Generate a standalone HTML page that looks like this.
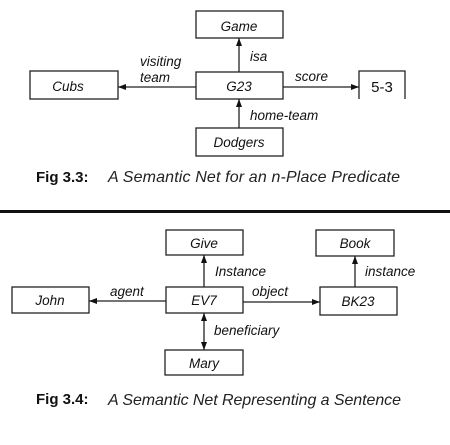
<!DOCTYPE html>
<html><head><style>
html,body{margin:0;padding:0;background:#fff;}
svg text{font-family:"Liberation Sans",Arial,sans-serif;}
</style></head><body>
<svg width="450" height="440" viewBox="0 0 450 440" xmlns="http://www.w3.org/2000/svg">
<defs>
<marker id="a" markerWidth="8" markerHeight="6" refX="8" refY="3" orient="auto" markerUnits="userSpaceOnUse"><path d="M0,0 L8,3 L0,6 z" fill="#111"/></marker>
<marker id="b" markerWidth="8" markerHeight="6" refX="0" refY="3" orient="auto" markerUnits="userSpaceOnUse"><path d="M8,0 L0,3 L8,6 z" fill="#111"/></marker>
</defs>
<g fill="#fff" stroke="#222" stroke-width="1.3">
<rect x="196" y="11" width="87" height="27"/>
<rect x="196" y="72" width="87" height="27"/>
<rect x="30" y="71" width="88" height="28"/>
<rect x="196" y="128" width="87" height="28"/>
<path d="M359,99 L359,71 L405,71 L405,99" fill="none"/>
<rect x="166" y="230" width="77" height="25"/>
<rect x="316" y="230" width="78" height="26"/>
<rect x="12" y="287" width="77" height="26"/>
<rect x="166" y="287" width="77" height="26"/>
<rect x="320" y="287" width="77" height="28"/>
<rect x="165" y="350" width="78" height="25"/>
</g>
<g stroke="#222" stroke-width="1.3" fill="none">
<line x1="239" y1="72" x2="239" y2="38" marker-end="url(#a)"/>
<line x1="196" y1="87" x2="118" y2="87" marker-end="url(#a)"/>
<line x1="283" y1="87" x2="359" y2="87" marker-end="url(#a)"/>
<line x1="239" y1="128" x2="239" y2="99" marker-end="url(#a)"/>
<line x1="204" y1="287" x2="204" y2="255" marker-end="url(#a)"/>
<line x1="355" y1="287" x2="355" y2="256" marker-end="url(#a)"/>
<line x1="166" y1="301" x2="89" y2="301" marker-end="url(#a)"/>
<line x1="243" y1="302" x2="320" y2="302" marker-end="url(#a)"/>
<line x1="204" y1="313" x2="204" y2="350" marker-start="url(#b)" marker-end="url(#a)"/>
</g>
<g font-size="13.5" font-style="italic" fill="#111">
<text x="239" y="31" text-anchor="middle">Game</text>
<text x="239" y="91" text-anchor="middle">G23</text>
<text x="68" y="91" text-anchor="middle">Cubs</text>
<text x="382" y="92" text-anchor="middle" font-style="normal" font-size="15">5-3</text>
<text x="239" y="147" text-anchor="middle">Dodgers</text>
<text x="140" y="66">visiting</text>
<text x="140" y="82">team</text>
<text x="250" y="61">isa</text>
<text x="295" y="81">score</text>
<text x="250" y="120">home-team</text>
<text x="204" y="248" text-anchor="middle">Give</text>
<text x="355" y="248" text-anchor="middle">Book</text>
<text x="50" y="305" text-anchor="middle">John</text>
<text x="204" y="305" text-anchor="middle">EV7</text>
<text x="358" y="306" text-anchor="middle">BK23</text>
<text x="204" y="368" text-anchor="middle">Mary</text>
<text x="215" y="276">Instance</text>
<text x="365" y="276">instance</text>
<text x="110" y="296">agent</text>
<text x="252" y="296">object</text>
<text x="214" y="335">beneficiary</text>
</g>
<text x="36" y="182" font-family="Liberation Serif,serif" font-weight="bold" font-size="15" fill="#111">Fig 3.3:</text>
<text x="108" y="182" font-size="16" font-style="italic" fill="#222" textLength="292">A Semantic Net for an n-Place Predicate</text>
<rect x="0" y="210" width="450" height="3" fill="#111"/>
<text x="36" y="404" font-family="Liberation Serif,serif" font-weight="bold" font-size="15" fill="#111">Fig 3.4:</text>
<text x="108" y="405" font-size="16" font-style="italic" fill="#222" textLength="293">A Semantic Net Representing a Sentence</text>
</svg>
</body></html>
